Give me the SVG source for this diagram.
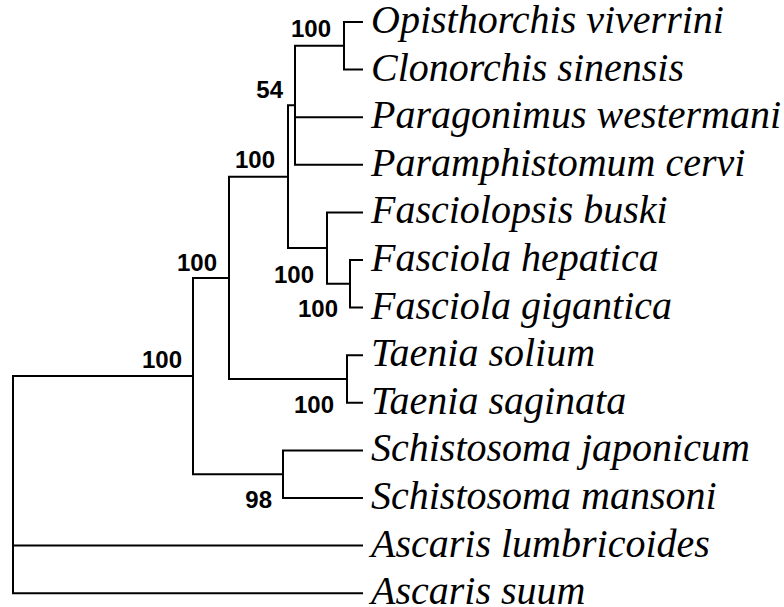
<svg xmlns="http://www.w3.org/2000/svg" width="784" height="607" viewBox="0 0 784 607">
<style>
.e{fill:none;stroke:#000;stroke-width:2;stroke-linejoin:miter;stroke-linecap:square}
.t{font-family:"Liberation Serif","Times New Roman",serif;font-style:italic;font-size:40px;fill:#000}
.b{font-family:"Liberation Sans",Arial,sans-serif;font-weight:bold;font-size:24px;fill:#000;text-anchor:end}
</style>
<rect width="784" height="607" fill="#fff"/>
<g id="connectors">
<path class="e" d="M362 22H344V69.6H362"/>
<path class="e" d="M344 45.8H295V164.8H362M295 117.2H362"/>
<path class="e" d="M362 260H350V307.6H362"/>
<path class="e" d="M362 212.4H327V283.8H350"/>
<path class="e" d="M295 105.3H288V248.1H327"/>
<path class="e" d="M362 355.2H347V402.8H362"/>
<path class="e" d="M288 176.7H229V379H347"/>
<path class="e" d="M362 450.4H283V498H362"/>
<path class="e" d="M229 277.9H193V474.2H283"/>
<path class="e" d="M193 376H13V593.2H362M13 545.6H362"/>
</g>
<g id="leaf-opisthorchis"><text class="t" x="371" y="33">Opisthorchis viverrini</text></g>
<g id="leaf-clonorchis"><text class="t" x="371" y="81">Clonorchis sinensis</text></g>
<g id="leaf-paragonimus"><text class="t" x="371" y="128">Paragonimus westermani</text></g>
<g id="leaf-paramphistomum"><text class="t" x="371" y="176">Paramphistomum cervi</text></g>
<g id="leaf-fasciolopsis"><text class="t" x="371" y="223">Fasciolopsis buski</text></g>
<g id="leaf-fasciola-hepatica"><text class="t" x="371" y="271">Fasciola hepatica</text></g>
<g id="leaf-fasciola-gigantica"><text class="t" x="371" y="319">Fasciola gigantica</text></g>
<g id="leaf-taenia-solium"><text class="t" x="371" y="366">Taenia solium</text></g>
<g id="leaf-taenia-saginata"><text class="t" x="371" y="414">Taenia saginata</text></g>
<g id="leaf-schistosoma-japonicum"><text class="t" x="371" y="461">Schistosoma japonicum</text></g>
<g id="leaf-schistosoma-mansoni"><text class="t" x="371" y="509">Schistosoma mansoni</text></g>
<g id="leaf-ascaris-lumbricoides"><text class="t" x="371" y="557">Ascaris lumbricoides</text></g>
<g id="leaf-ascaris-suum"><text class="t" x="371" y="604">Ascaris suum</text></g>
<g id="node-opis-clon"><text class="b" x="331" y="37">100</text></g>
<g id="node-polytomy"><text class="b" x="283" y="98">54</text></g>
<g id="node-trematodes"><text class="b" x="275" y="168">100</text></g>
<g id="node-fasciolidae"><text class="b" x="314" y="283">100</text></g>
<g id="node-fasciola"><text class="b" x="338" y="317">100</text></g>
<g id="node-platyhelminthes-a"><text class="b" x="217" y="271">100</text></g>
<g id="node-platyhelminthes"><text class="b" x="182" y="368">100</text></g>
<g id="node-taenia"><text class="b" x="334" y="413">100</text></g>
<g id="node-schistosoma"><text class="b" x="272" y="508">98</text></g>
</svg>
